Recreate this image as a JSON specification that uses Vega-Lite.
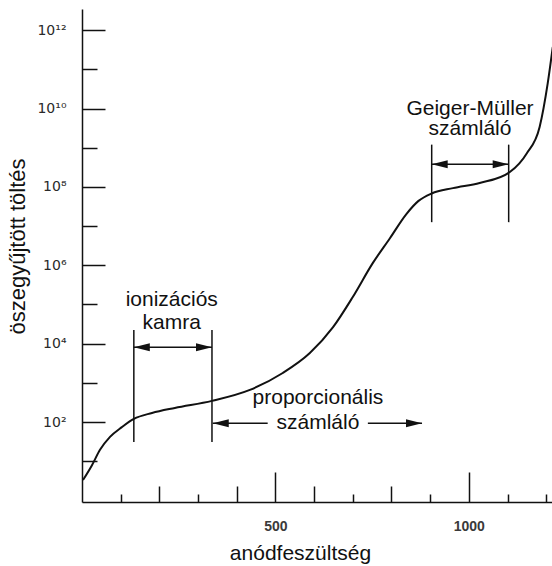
{
  "$schema": "https://vega.github.io/schema/vega-lite/v6.json",
  "width": 470,
  "height": 493,
  "autosize": {"type": "none"},
  "padding": {"left": 82, "top": 9, "right": 0, "bottom": 64},
  "background": "white",
  "config": {
    "view": {"stroke": null},
    "font": "Liberation Sans",
    "axis": {"domainColor": "#111", "domainWidth": 1.5, "tickColor": "#111", "tickWidth": 1.5, "labelColor": "#222", "titleColor": "#111", "grid": false, "labelFont": "Liberation Sans", "titleFont": "Liberation Sans", "titleFontWeight": "normal"}
  },
  "resolve": {"axis": {"x": "independent", "y": "independent"}},
  "datasets": {
    "curve": [
      {"v": 2.6, "q": 3.3},
      {"v": 25.8, "q": 7.9},
      {"v": 46.5, "q": 19.5},
      {"v": 72.4, "q": 41.7},
      {"v": 103, "q": 74},
      {"v": 134, "q": 120},
      {"v": 181, "q": 170},
      {"v": 240, "q": 229},
      {"v": 336, "q": 347},
      {"v": 434, "q": 660},
      {"v": 519, "q": 1780},
      {"v": 589, "q": 5750},
      {"v": 649, "q": 26300},
      {"v": 700, "q": 155000},
      {"v": 752, "q": 1150000},
      {"v": 796, "q": 4900000},
      {"v": 838, "q": 20000000},
      {"v": 870, "q": 44000000},
      {"v": 904, "q": 68000000},
      {"v": 959, "q": 93000000},
      {"v": 1028, "q": 126000000},
      {"v": 1106, "q": 240000000},
      {"v": 1150, "q": 724000000},
      {"v": 1183, "q": 3390000000},
      {"v": 1204, "q": 44700000000},
      {"v": 1217, "q": 372000000000}
    ],
    "vlines": [
      {"v": 134, "lo": 31, "hi": 22400},
      {"v": 336, "lo": 31, "hi": 22400},
      {"v": 904, "lo": 12600000, "hi": 1200000000},
      {"v": 1103, "lo": 12600000, "hi": 1200000000}
    ],
    "shafts": [
      {"a": 134, "b": 336, "q": 8100},
      {"a": 904, "b": 1103, "q": 380000000},
      {"a": 338, "b": 480, "q": 93},
      {"a": 739, "b": 879, "q": 93}
    ],
    "heads": [
      {"v": 134, "q": 8100, "dir": "left"},
      {"v": 336, "q": 8100, "dir": "right"},
      {"v": 904, "q": 380000000, "dir": "left"},
      {"v": 1103, "q": 380000000, "dir": "right"},
      {"v": 338, "q": 93, "dir": "left"},
      {"v": 879, "q": 93, "dir": "right"}
    ],
    "labels": [
      {"v": 232, "q": 130000, "t": "ionizációs"},
      {"v": 232, "q": 34000, "t": "kamra"},
      {"v": 610, "q": 410, "t": "proporcionális"},
      {"v": 610, "q": 93, "t": "számláló"},
      {"v": 1003, "q": 10000000000, "t": "Geiger-Müller"},
      {"v": 1003, "q": 2950000000, "t": "számláló"}
    ]
  },
  "layer": [
    {
      "data": {"name": "curve"},
      "mark": {"type": "line", "interpolate": "monotone", "color": "#111", "strokeWidth": 2, "clip": true},
      "encoding": {
        "x": {
          "field": "v", "type": "quantitative",
          "scale": {"domain": [0, 1215], "nice": false, "zero": false},
          "axis": {
            "orient": "bottom",
            "title": "anódfeszültség",
            "titleFontSize": 21,
            "titleX": 218,
            "titleY": 51,
            "titleBaseline": "middle",
            "titleAlign": "center",
            "values": [500, 1000],
            "format": "d",
            "labelFontSize": 14,
            "labelFontWeight": "bold",
            "labelColor": "#3a3a3a",
            "labelPadding": 47,
            "tickSize": -30
          }
        },
        "y": {
          "field": "q", "type": "quantitative",
          "scale": {"type": "log", "domain": [0.91, 3470000000000], "nice": false},
          "axis": {
            "orient": "left",
            "title": "öszegyűjtött töltés",
            "titleFontSize": 22,
            "titleX": -65,
            "titleY": 237,
            "titleBaseline": "middle",
            "titleAlign": "center",
            "titleAngle": -90,
            "values": [100, 10000, 1000000, 100000000, 10000000000, 1000000000000],
            "labelExpr": "'10' + ['','','²','','⁴','','⁶','','⁸','','¹⁰','','¹²'][round(log(datum.value)/LN10)]",
            "labelFont": "DejaVu Sans",
            "labelFontSize": 14,
            "labelColor": "#2a2a2a",
            "labelPadding": 39,
            "tickSize": -23
          }
        }
      }
    },
    {
      "data": {"name": "vlines"},
      "mark": {"type": "rule", "color": "#111", "strokeWidth": 1.5},
      "encoding": {
        "x": {
          "field": "v", "type": "quantitative",
          "scale": {"domain": [0, 1215], "nice": false, "zero": false},
          "axis": {"orient": "bottom", "title": null, "labels": false, "domain": false, "values": [200, 400, 600, 800], "tickSize": -16}
        },
        "y": {
          "field": "lo", "type": "quantitative",
          "scale": {"type": "log", "domain": [0.91, 3470000000000], "nice": false},
          "axis": {"orient": "left", "title": null, "labels": false, "domain": false, "values": [10, 1000, 100000, 10000000, 1000000000, 100000000000], "tickSize": -15}
        },
        "y2": {"field": "hi"}
      }
    },
    {
      "data": {"name": "shafts"},
      "mark": {"type": "rule", "color": "#111", "strokeWidth": 1.5},
      "encoding": {
        "x": {
          "field": "a", "type": "quantitative",
          "scale": {"domain": [0, 1215], "nice": false, "zero": false},
          "axis": {"orient": "bottom", "title": null, "labels": false, "domain": false, "values": [100, 300, 700, 900, 1100, 1200], "tickSize": -8}
        },
        "x2": {"field": "b"},
        "y": {
          "field": "q", "type": "quantitative",
          "scale": {"type": "log", "domain": [0.91, 3470000000000], "nice": false},
          "axis": null
        }
      }
    },
    {
      "data": {"name": "heads"},
      "mark": {"type": "point", "filled": true, "color": "#111", "opacity": 1, "size": 256, "strokeWidth": 0},
      "encoding": {
        "x": {"field": "v", "type": "quantitative", "scale": {"domain": [0, 1215], "nice": false, "zero": false}, "axis": null},
        "y": {"field": "q", "type": "quantitative", "scale": {"type": "log", "domain": [0.91, 3470000000000], "nice": false}, "axis": null},
        "shape": {"field": "dir", "type": "nominal", "legend": null, "scale": {"domain": ["left", "right"], "range": ["M0,0L2,-0.5L2,0.5Z", "M0,0L-2,-0.5L-2,0.5Z"]}}
      }
    },
    {
      "data": {"name": "labels"},
      "mark": {"type": "text", "fontSize": 21, "color": "#111", "align": "center", "baseline": "middle", "font": "Liberation Sans"},
      "encoding": {
        "x": {"field": "v", "type": "quantitative", "scale": {"domain": [0, 1215], "nice": false, "zero": false}, "axis": null},
        "y": {"field": "q", "type": "quantitative", "scale": {"type": "log", "domain": [0.91, 3470000000000], "nice": false}, "axis": null},
        "text": {"field": "t"}
      }
    }
  ]
}
